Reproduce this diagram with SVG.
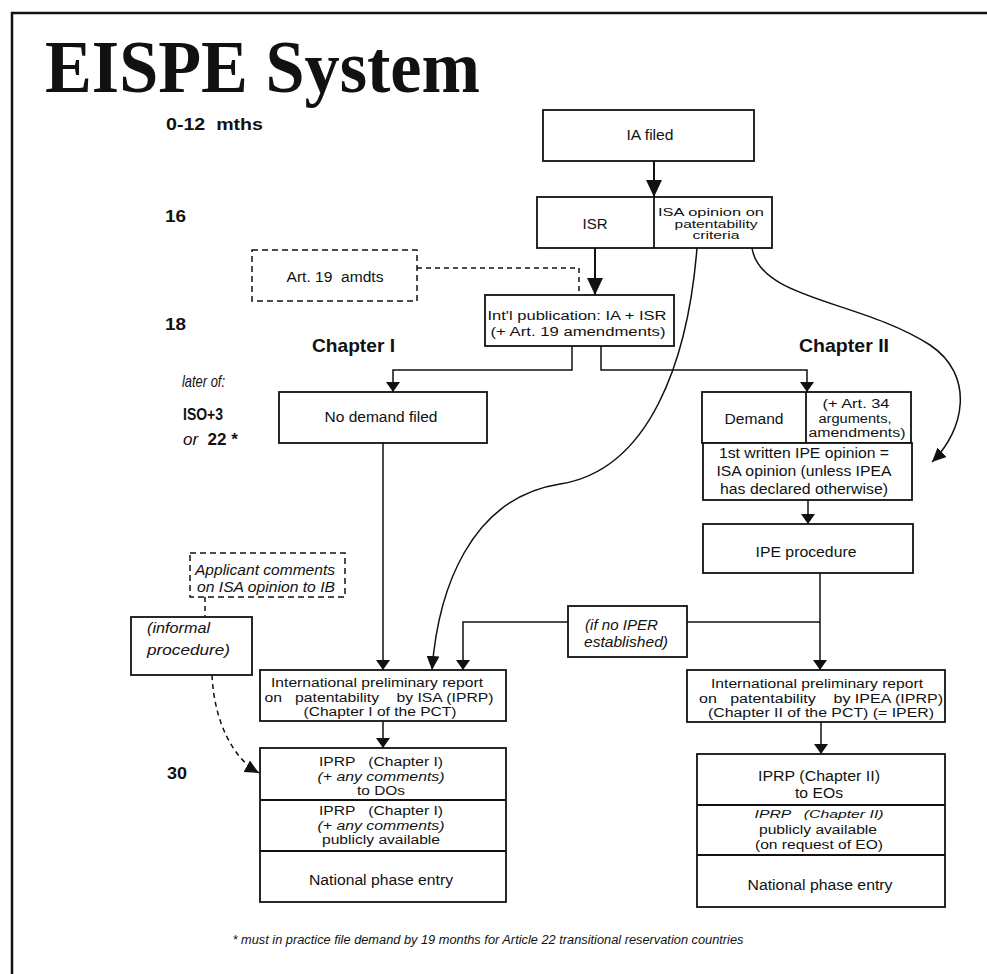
<svg xmlns="http://www.w3.org/2000/svg" width="987" height="974" viewBox="0 0 987 974">
<style>
.box{fill:#fff;stroke:#111;stroke-width:1.8}
.dbox{fill:#fff;stroke:#111;stroke-width:1.5;stroke-dasharray:6 4}
.t{font-family:"Liberation Sans",Arial,sans-serif;font-size:14px;fill:#111;text-anchor:middle;white-space:pre}
.m{font-size:12.3px}
.s{text-anchor:start}
.i{font-style:italic}
.lbl{font-family:"Liberation Sans",Arial,sans-serif;font-weight:bold;font-size:16px;fill:#111;white-space:pre}
.conn{fill:none;stroke:#111;stroke-width:1.5}
.thick{stroke-width:2}
.dash{stroke-dasharray:5 4}
</style>
<defs>
<marker id="ab" markerUnits="userSpaceOnUse" markerWidth="18" markerHeight="18" viewBox="0 0 18 18" refX="17" refY="9" orient="auto"><path d="M0,1 L17,9 L0,17 z" fill="#111"/></marker>
<marker id="af" markerUnits="userSpaceOnUse" markerWidth="11" markerHeight="15" viewBox="0 0 11 15" refX="10" refY="7.5" orient="auto"><path d="M0,0.5 L10,7.5 L0,14.5 z" fill="#111"/></marker>
<marker id="am" markerUnits="userSpaceOnUse" markerWidth="15" markerHeight="15" viewBox="0 0 15 15" refX="14" refY="7.5" orient="auto"><path d="M0,1 L14,7.5 L0,14 z" fill="#111"/></marker>
</defs>
<rect width="987" height="974" fill="#fff"/>
<g id="frame">
<path d="M11,13 H987 M12,12 V974" fill="none" stroke="#111" stroke-width="2.5"/>
</g>
<g id="title">
<text x="45" y="92" font-family="'Liberation Serif','Times New Roman',serif" font-weight="bold" font-size="74" fill="#111" textLength="435" lengthAdjust="spacingAndGlyphs">EISPE System</text>
</g>
<g id="time-labels">
<text class="lbl" x="166" y="130" textLength="97" lengthAdjust="spacingAndGlyphs">0-12  mths</text>
<text class="lbl" x="165" y="222" textLength="21" lengthAdjust="spacingAndGlyphs">16</text>
<text class="lbl" x="165" y="330" textLength="21" lengthAdjust="spacingAndGlyphs">18</text>
<text class="lbl" x="167" y="779" textLength="20" lengthAdjust="spacingAndGlyphs">30</text>
<text class="lbl" x="182" y="387" style="font-weight:normal;font-style:italic;font-size:17px" textLength="43" lengthAdjust="spacingAndGlyphs">later of:</text>
<text class="lbl" x="183" y="420" style="font-size:17px" textLength="40" lengthAdjust="spacingAndGlyphs">ISO+3</text>
<text class="lbl" x="183" y="445" style="font-size:17px"><tspan style="font-weight:normal;font-style:italic">or  </tspan><tspan>22 *</tspan></text>
<text class="lbl" x="312" y="352" style="font-size:19px" textLength="83" lengthAdjust="spacingAndGlyphs">Chapter I</text>
<text class="lbl" x="799" y="352" style="font-size:19px" textLength="90" lengthAdjust="spacingAndGlyphs">Chapter II</text>
</g>
<g id="connectors">
<path class="conn thick" d="M654,161 V197" marker-end="url(#ab)"/>
<path class="conn thick" d="M595,248 V295" marker-end="url(#ab)"/>
<path class="conn dash" d="M417,268 H579 V293"/>
<path class="conn" d="M572,346 V370 H393 V392" marker-end="url(#af)"/>
<path class="conn" d="M601,346 V370 H807 V392" marker-end="url(#af)"/>
<path class="conn" d="M697,248 C688,360 650,470 560,484 C470,498 438,590 432,670" marker-end="url(#am)"/>
<path class="conn" d="M752,248 C760,300 860,300 930,345 C975,375 965,430 932,462" marker-end="url(#am)"/>
<path class="conn" d="M383,443 V670" marker-end="url(#af)"/>
<path class="conn" d="M808,500 V524" marker-end="url(#af)"/>
<path class="conn" d="M820,573 V670" marker-end="url(#af)"/>
<path class="conn" d="M820,622 H687"/>
<path class="conn" d="M568,622 H463 V670" marker-end="url(#af)"/>
<path class="conn" d="M383,721 V748" marker-end="url(#af)"/>
<path class="conn" d="M821,722 V754" marker-end="url(#af)"/>
<path class="conn dash" d="M205,597 V617"/>
<path class="conn dash" d="M212,675 C214,720 232,758 259,773" marker-end="url(#am)"/>
</g>
<g id="ia-filed">
<rect class="box" x="543" y="110" width="211" height="51"/>
<text class="t" x="650" y="140" textLength="47" lengthAdjust="spacingAndGlyphs">IA filed</text>
</g>
<g id="isr">
<rect class="box" x="537" y="197" width="235" height="51"/>
<line x1="654" y1="197" x2="654" y2="248" stroke="#111" stroke-width="1.8"/>
<text class="t" x="595" y="229" textLength="25" lengthAdjust="spacingAndGlyphs">ISR</text>
<text class="t" x="711" y="216" style="font-size:10.2px" textLength="106" lengthAdjust="spacingAndGlyphs">ISA opinion on</text>
<text class="t" x="716" y="227.5" style="font-size:10.2px" textLength="83" lengthAdjust="spacingAndGlyphs">patentability</text>
<text class="t" x="716" y="239" style="font-size:10.2px" textLength="47" lengthAdjust="spacingAndGlyphs">criteria</text>
</g>
<g id="art19">
<rect class="dbox" x="252" y="250" width="165" height="51"/>
<text class="t" x="335" y="282" textLength="97" lengthAdjust="spacingAndGlyphs">Art. 19  amdts</text>
</g>
<g id="intl-publication">
<rect class="box" x="485" y="295" width="189" height="51"/>
<text class="t m" x="577" y="320" textLength="179" lengthAdjust="spacingAndGlyphs">Int'l publication: IA + ISR</text>
<text class="t m" x="578" y="336" textLength="175" lengthAdjust="spacingAndGlyphs">(+ Art. 19 amendments)</text>
</g>
<g id="no-demand">
<rect class="box" x="279" y="392" width="208" height="51"/>
<text class="t" x="381" y="422" textLength="113" lengthAdjust="spacingAndGlyphs">No demand filed</text>
</g>
<g id="demand">
<rect class="box" x="702" y="392" width="209" height="51"/>
<line x1="806" y1="392" x2="806" y2="443" stroke="#111" stroke-width="1.8"/>
<text class="t" x="754" y="424" textLength="59" lengthAdjust="spacingAndGlyphs">Demand</text>
<text class="t m" x="856" y="408" textLength="67" lengthAdjust="spacingAndGlyphs">(+ Art. 34</text>
<text class="t m" x="855" y="422.5" textLength="73" lengthAdjust="spacingAndGlyphs">arguments,</text>
<text class="t m" x="857" y="437" textLength="97" lengthAdjust="spacingAndGlyphs">amendments)</text>
</g>
<g id="first-written">
<rect class="box" x="703" y="443" width="209" height="57"/>
<text class="t" x="804" y="458" textLength="170" lengthAdjust="spacingAndGlyphs">1st written IPE opinion =</text>
<text class="t" x="804" y="476" textLength="175" lengthAdjust="spacingAndGlyphs">ISA opinion (unless IPEA</text>
<text class="t" x="804" y="494" textLength="168" lengthAdjust="spacingAndGlyphs">has declared otherwise)</text>
</g>
<g id="ipe-procedure">
<rect class="box" x="703" y="524" width="210" height="49"/>
<text class="t" x="806" y="557" textLength="101" lengthAdjust="spacingAndGlyphs">IPE procedure</text>
</g>
<g id="no-iper">
<rect class="box" x="568" y="606" width="119" height="51"/>
<text class="t s i" x="585" y="630" textLength="73" lengthAdjust="spacingAndGlyphs">(if no IPER</text>
<text class="t s i" x="584" y="647" textLength="84" lengthAdjust="spacingAndGlyphs">established)</text>
</g>
<g id="applicant-comments">
<rect class="dbox" x="190" y="553" width="155" height="44"/>
<text class="t i" x="265" y="575" textLength="140" lengthAdjust="spacingAndGlyphs">Applicant comments</text>
<text class="t i" x="266" y="592" textLength="138" lengthAdjust="spacingAndGlyphs">on ISA opinion to IB</text>
</g>
<g id="informal-procedure">
<rect class="box" x="131" y="617" width="121" height="58"/>
<text class="t s i" x="147" y="633" textLength="63" lengthAdjust="spacingAndGlyphs">(informal</text>
<text class="t s i" x="147" y="655" textLength="83" lengthAdjust="spacingAndGlyphs">procedure)</text>
</g>
<g id="iprp-isa">
<rect class="box" x="260" y="670" width="246" height="51"/>
<text class="t m" x="377" y="687" textLength="212" lengthAdjust="spacingAndGlyphs">International preliminary report</text>
<text class="t m" x="379" y="701.5" textLength="229" lengthAdjust="spacingAndGlyphs">on   patentability    by ISA (IPRP)</text>
<text class="t m" x="380" y="716" textLength="153" lengthAdjust="spacingAndGlyphs">(Chapter I of the PCT)</text>
</g>
<g id="iprp-ipea">
<rect class="box" x="687" y="670" width="258" height="52"/>
<text class="t m" x="817" y="688" textLength="212" lengthAdjust="spacingAndGlyphs">International preliminary report</text>
<text class="t m" x="821" y="702.5" textLength="244" lengthAdjust="spacingAndGlyphs">on   patentability    by IPEA (IPRP)</text>
<text class="t m" x="821" y="717" textLength="226" lengthAdjust="spacingAndGlyphs">(Chapter II of the PCT) (= IPER)</text>
</g>
<g id="chapter1-stack">
<rect class="box" x="260" y="748" width="246" height="154"/>
<line x1="260" y1="800" x2="506" y2="800" stroke="#111" stroke-width="1.8"/>
<line x1="260" y1="851" x2="506" y2="851" stroke="#111" stroke-width="2.2"/>
<text class="t m" x="381" y="766" textLength="124" lengthAdjust="spacingAndGlyphs">IPRP   (Chapter I)</text>
<text class="t m i" x="381" y="780.5" textLength="127" lengthAdjust="spacingAndGlyphs">(+ any comments)</text>
<text class="t m" x="381" y="795" textLength="48" lengthAdjust="spacingAndGlyphs">to DOs</text>
<text class="t m" x="381" y="815" textLength="124" lengthAdjust="spacingAndGlyphs">IPRP   (Chapter I)</text>
<text class="t m i" x="381" y="829.5" textLength="127" lengthAdjust="spacingAndGlyphs">(+ any comments)</text>
<text class="t m" x="381" y="844" textLength="118" lengthAdjust="spacingAndGlyphs">publicly available</text>
<text class="t" x="381" y="885" textLength="144" lengthAdjust="spacingAndGlyphs">National phase entry</text>
</g>
<g id="chapter2-stack">
<rect class="box" x="697" y="754" width="248" height="153"/>
<line x1="697" y1="805" x2="945" y2="805" stroke="#111" stroke-width="1.8"/>
<line x1="697" y1="855" x2="945" y2="855" stroke="#111" stroke-width="2.2"/>
<text class="t" x="819" y="781" textLength="122" lengthAdjust="spacingAndGlyphs">IPRP (Chapter II)</text>
<text class="t" x="819" y="798" textLength="48" lengthAdjust="spacingAndGlyphs">to EOs</text>
<text class="t m i" x="819" y="818" style="font-size:11.5px" textLength="129" lengthAdjust="spacingAndGlyphs">IPRP   (Chapter II)</text>
<text class="t m" x="818" y="834" textLength="118" lengthAdjust="spacingAndGlyphs">publicly available</text>
<text class="t m" x="819" y="849" textLength="128" lengthAdjust="spacingAndGlyphs">(on request of EO)</text>
<text class="t" x="820" y="890" textLength="145" lengthAdjust="spacingAndGlyphs">National phase entry</text>
</g>
<g id="footnote">
<text class="t i" x="488" y="944" style="font-size:12.5px" textLength="511" lengthAdjust="spacingAndGlyphs">* must in practice file demand by 19 months for Article 22 transitional reservation countries</text>
</g>
</svg>
